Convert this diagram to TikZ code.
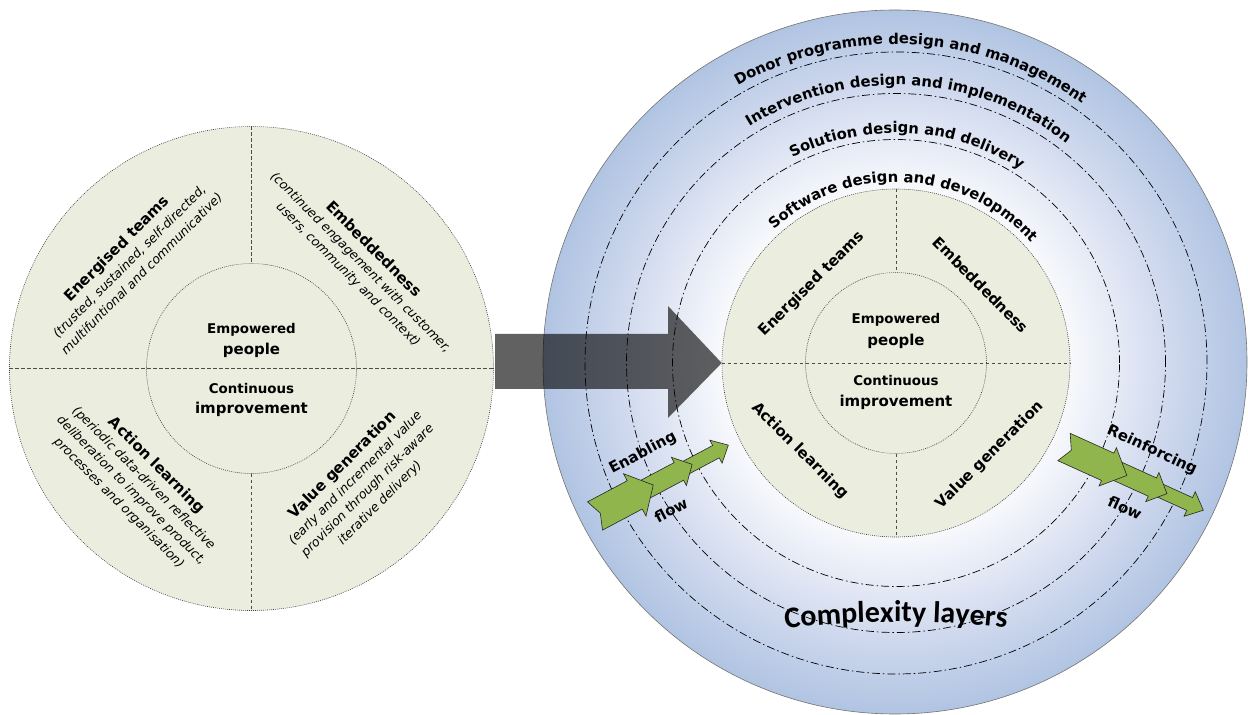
\documentclass[tikz,border=0pt]{standalone}
\usepackage{fontspec}
\setmainfont{DejaVu Sans}
\newfontfamily\calfont{Carlito}
\usetikzlibrary{decorations.text}

\definecolor{diskgreen}{RGB}{235,238,223}
\definecolor{ringblue}{RGB}{176,196,226}
\definecolor{ringmid}{RGB}{205,215,237}
\definecolor{ringpale}{RGB}{228,233,245}
\definecolor{flowgreen}{RGB}{145,181,77}

\pgfdeclareradialshading{ringshade}{\pgfpoint{0bp}{0bp}}{color(0bp)=(white); color(11bp)=(white); color(16bp)=(ringpale); color(20bp)=(ringmid); color(25bp)=(ringblue); color(50bp)=(ringblue)}

\newcommand{\ringfont}{\bfseries\fontsize{14.8}{17}\selectfont}

\begin{document}
\begin{tikzpicture}[x=1pt, y=1pt,
  quaddisk/.style={circle, fill=diskgreen, draw=black!75, line width=0.6pt, dash pattern=on 0.9pt off 1.1pt, inner sep=0pt},
  splitline/.style={draw=black!70, line width=0.8pt, dash pattern=on 3.5pt off 2.5pt},
  layerring/.style={draw=black, line width=0.7pt, dash pattern=on 8pt off 3pt on 1.5pt off 3pt},
  flowarrow/.style={fill=flowgreen, draw=black!85, line width=0.6pt, line join=miter},
  quadtext/.style={align=center, inner sep=0pt, font=\fontsize{12.6}{17.5}\selectfont},
  quadlabel/.style={inner sep=0pt, font=\bfseries\fontsize{15}{17}\selectfont},
  hubsmall/.style={anchor=base, inner sep=0pt, font=\bfseries\fontsize{13.4}{15}\selectfont},
  hubbig/.style={anchor=base, inner sep=0pt, font=\bfseries\fontsize{15}{17}\selectfont},
  flowlabel/.style={inner sep=0pt, font=\bfseries\fontsize{15}{17}\selectfont}]
\useasboundingbox (0,0) rectangle (1248,715);

% left circle
\node[quaddisk, minimum size=484pt] (lbig) at (251.5,346.5) {};
\node[quaddisk, minimum size=210pt] (lhub) at (251.5,346.5) {};
\draw[splitline] (lbig.north) -- (lhub.north);
\draw[splitline] (lhub.south) -- (lbig.south);
\draw[splitline] (lbig.west) -- (lbig.east);

\node[hubsmall] (lemp) at (251.5,381.7) {Empowered};
\node[hubbig] (lpeople) at (251.5,360) {people};
\node[hubsmall] (lcont) at (251.5,321) {Continuous};
\node[hubbig] (limpr) at (251.5,301.3) {improvement};

\node[quadtext, rotate=45] (lteams) at (129,454) {{\bfseries\fontsize{15}{17}\selectfont Energised teams}\\ \itshape(trusted, sustained, self-directed,\\ \itshape multifuntional and communicative)};
\node[quadtext, rotate=-45] (lembed) at (361,453) {{\bfseries\fontsize{15}{17}\selectfont Embeddedness}\\ \itshape(continued engagement with customer,\\ \itshape users, community and context)};
\node[quadtext, rotate=-45] (llearn) at (138,231) {{\bfseries\fontsize{15}{17}\selectfont Action learning}\\ \itshape(periodic data-driven reflective\\ \itshape deliberation to improve product,\\ \itshape processes and organisation)};
\node[quadtext, rotate=45] (lvalue) at (361,231) {{\bfseries\fontsize{15}{17}\selectfont Value generation}\\ \itshape(early and incremental value\\ \itshape provision through risk-aware\\ \itshape iterative delivery)};

% complexity layers
\shadedraw[shading=ringshade, draw=black!55, line width=0.6pt] (895,353) circle[radius=352];
\draw[layerring] (896,352) circle[radius=311];
\draw[layerring] (896,352) circle[radius=269.5];
\draw[layerring] (896,352) circle[radius=223.5];

\path[decorate, decoration={text along path, text align=center, text={|\ringfont|Donor programme design and management}}] (896,352) ++(147:319) arc[start angle=147, end angle=27, radius=319];
\path[decorate, decoration={text along path, text align=center, text={|\ringfont|Intervention design and implementation}}] (896,352) ++(147:278) arc[start angle=147, end angle=27, radius=278];
\path[decorate, decoration={text along path, text align=center, text={|\ringfont|Solution design and delivery}}] (896,352) ++(147:230) arc[start angle=147, end angle=27, radius=230];
\path[decorate, decoration={text along path, text align=center, text={|\ringfont|Software design and development}}] (896,352) ++(147:181) arc[start angle=147, end angle=27, radius=181];
\path[decorate, decoration={text along path, text align=center, text={|\calfont\bfseries\fontsize{30}{36}\selectfont|Complexity layers}}] (896,-907) ++(100:1000) arc[start angle=100, end angle=80, radius=1000];

% right circle
\node[quaddisk, minimum size=348pt] (rbig) at (896,352) {};
\node[quaddisk, minimum size=181pt] (rhub) at (896,352) {};
\draw[splitline] (rbig.north) -- (rhub.north);
\draw[splitline] (rhub.south) -- (rbig.south);
\draw[splitline] (rbig.west) -- (rbig.east);

\node[hubsmall] (remp) at (896,391.1) {Empowered};
\node[hubbig] (rpeople) at (896,369.6) {people};
\node[hubsmall] (rcont) at (896,329.9) {Continuous};
\node[hubbig] (rimpr) at (896,308) {improvement};

\node[quadlabel, rotate=45] (rteams) at (812,431) {Energised teams};
\node[quadlabel, rotate=-45] (rembed) at (981,430) {Embeddedness};
\node[quadlabel, rotate=-45] (rlearn) at (800,264) {Action learning};
\node[quadlabel, rotate=45] (rvalue) at (990,260) {Value generation};

% big arrow
\fill[black, opacity=0.62] (495,326) -- (668,326) -- (668,297) -- (rbig.west) -- (668,409) -- (668,381) -- (495,381) -- cycle;

% flows
\begin{scope}[shift={(595,199)}, rotate=28]
  \foreach \ts/\hb/\tp/\w/\h in {85/137/151/7/13, 35/95/110/10/16, 0/45/66/16/24}
    \draw[flowarrow] (\ts,\w) -- (\hb,\w) -- (\hb,\h) -- (\tp,0) -- (\hb,-\h) -- (\hb,-\w) -- (\ts,-\w) -- (\ts+6,0) -- cycle;
\end{scope}
\begin{scope}[shift={(1064,268)}, rotate=-24.4]
  \foreach \ts/\hb/\tp/\w/\h in {85/138/153/7/13.5, 35/97/113/10/16, 0/48/69/15/21}
    \draw[flowarrow] (\ts,\w) -- (\hb,\w) -- (\hb,\h) -- (\tp,0) -- (\hb,-\h) -- (\hb,-\w) -- (\ts,-\w) -- (\ts+8,0) -- cycle;
\end{scope}

\node[flowlabel, rotate=28] (enab) at (643,262) {Enabling};
\node[flowlabel, rotate=28] (enflow) at (671,205) {flow};
\node[flowlabel, rotate=-25] (reinf) at (1152,265) {Reinforcing};
\node[flowlabel, rotate=-24] (reflow) at (1125,207) {flow};
\end{tikzpicture}
\end{document}
